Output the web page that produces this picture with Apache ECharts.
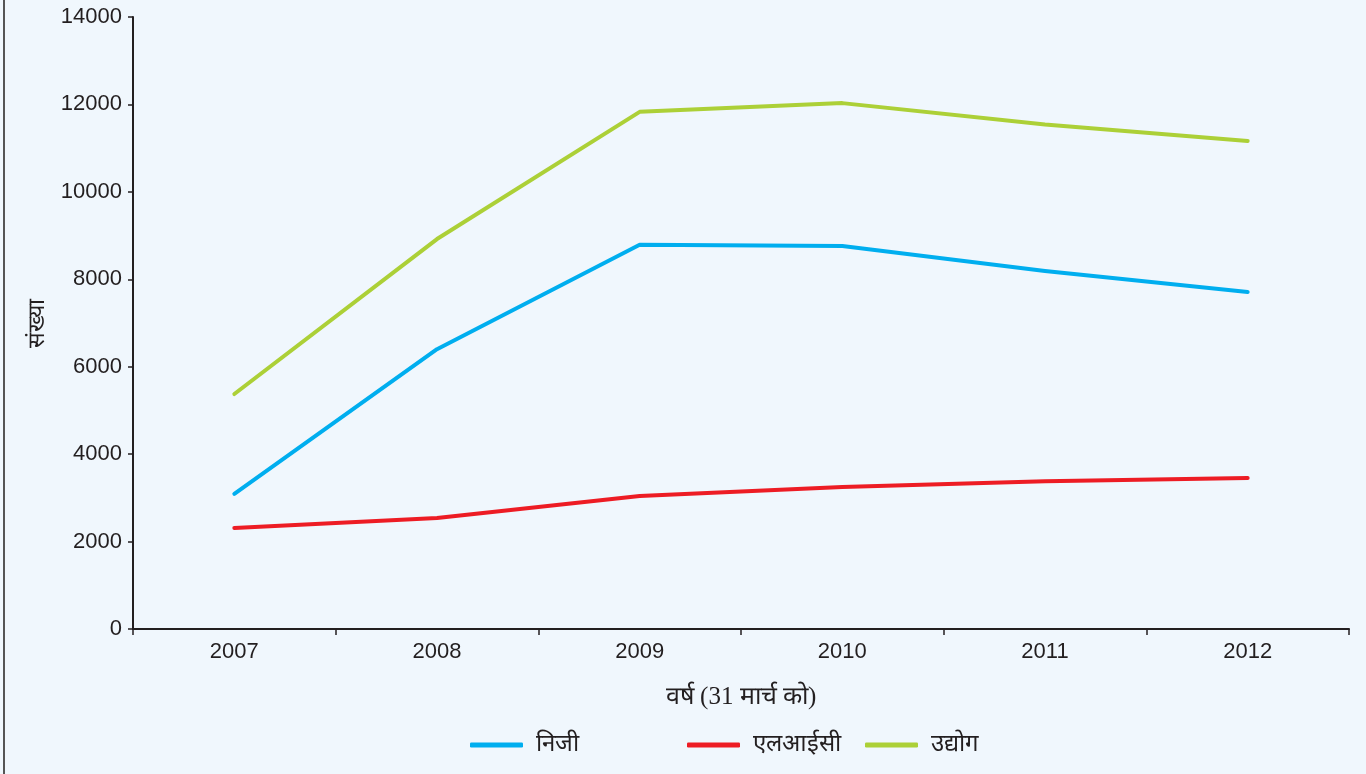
<!DOCTYPE html>
<html>
<head>
<meta charset="utf-8">
<script src="https://cdn.jsdelivr.net/npm/echarts@6/dist/echarts.min.js"></script>
<style>
html,body{margin:0;padding:0;background:#f0f7fd;}
#c{width:1366px;height:774px;}
</style>
</head>
<body>
<div id="c"></div>
<script>
const years = ['2007','2008','2009','2010','2011','2012'];
const nijiName = 'निजी';
const licName = 'एलआईसी';
const udyogName = 'उद्योग';
const niji = [3090, 6400, 8790, 8760, 8190, 7710];
const lic = [2310, 2540, 3040, 3250, 3380, 3455];
const udyog = [5375, 8920, 11830, 12030, 11540, 11165];
const yTitle = 'संख्या';
const xTitle = 'वर्ष (31 मार्च को)';

const textColor = '#231f20';
const numFont = 'Liberation Sans, Arial, sans-serif';
const devFont = 'serif';

const chart = echarts.init(document.getElementById('c'), null, {renderer:'canvas'});
function legendAt(left, name) {
  return {
    left: left, top: 733,
    data: [name],
    icon: 'roundRect',
    itemWidth: 53, itemHeight: 5,
    itemGap: 0,
    padding: 0,
    textStyle: {fontFamily: devFont, fontSize: 24, color: textColor, padding: [0,0,0,8]}
  };
}
chart.setOption({
  backgroundColor: '#f0f7fd',
  animation: false,
  grid: {left: 133, right: 17, top: 17, bottom: 145, containLabel: false},
  legend: [legendAt(470, nijiName), legendAt(687, licName), legendAt(865, udyogName)],
  graphic: [{
    type: 'line', shape: {x1: 4, y1: 0, x2: 4, y2: 774},
    style: {stroke: '#555', lineWidth: 2}
  }],
  xAxis: {
    type: 'category',
    data: years,
    boundaryGap: true,
    name: xTitle,
    nameLocation: 'middle',
    nameGap: 56,
    nameTextStyle: {fontFamily: devFont, fontSize: 25, color: textColor},
    axisLine: {lineStyle: {color: textColor, width: 2}},
    axisTick: {show: true, length: 6, lineStyle: {color: textColor, width: 1.5}},
    axisLabel: {fontFamily: numFont, fontSize: 22, color: textColor, margin: 12}
  },
  yAxis: {
    type: 'value',
    min: 0, max: 14000, interval: 2000,
    name: yTitle,
    nameLocation: 'middle',
    nameRotate: 90,
    nameGap: 82,
    nameTextStyle: {fontFamily: devFont, fontSize: 23, color: textColor},
    axisLine: {show: true, lineStyle: {color: textColor, width: 2}},
    axisTick: {show: true, length: 5, lineStyle: {color: textColor, width: 1.5}},
    splitLine: {show: false},
    axisLabel: {fontFamily: numFont, fontSize: 22, color: textColor, margin: 11,
      formatter: v => String(v)}
  },
  series: [
    {name: nijiName, type: 'line', data: niji, symbol: 'none', color: '#00aeef',
     lineStyle: {width: 4, cap: 'round', join: 'round'}},
    {name: licName, type: 'line', data: lic, symbol: 'none', color: '#ed1c24',
     lineStyle: {width: 4, cap: 'round', join: 'round'}},
    {name: udyogName, type: 'line', data: udyog, symbol: 'none', color: '#acd037',
     lineStyle: {width: 4, cap: 'round', join: 'round'}}
  ]
});
</script>
</body>
</html>
